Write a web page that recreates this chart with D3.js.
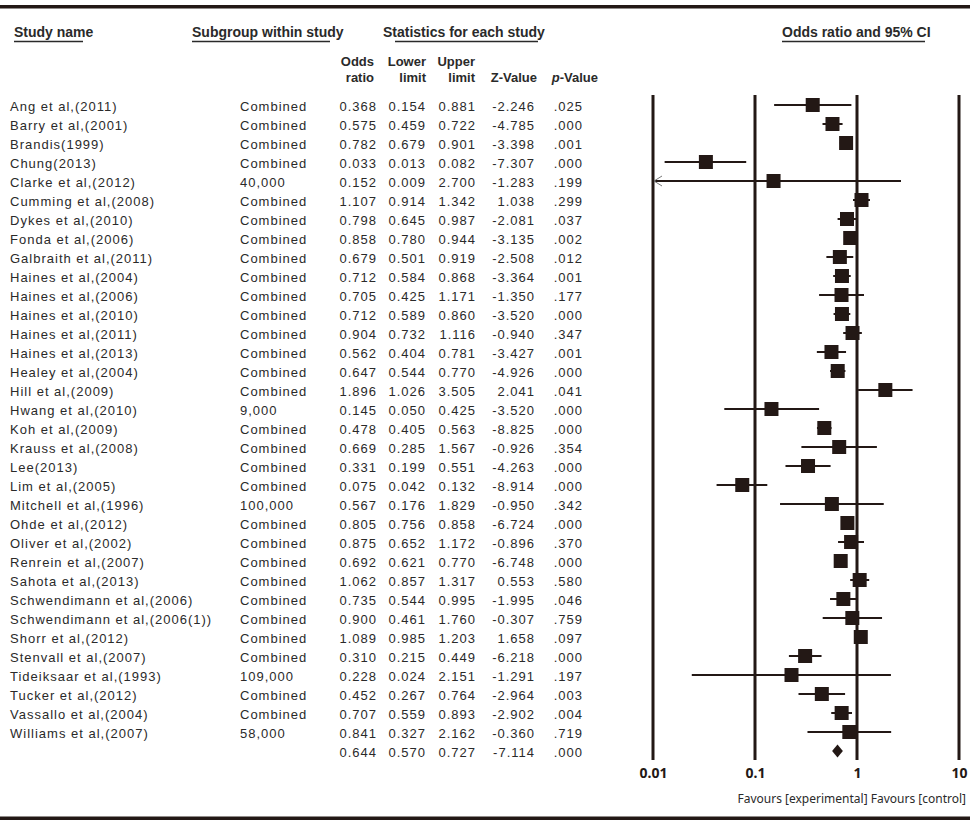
<!DOCTYPE html>
<html>
<head>
<meta charset="utf-8">
<script src="https://cdn.jsdelivr.net/npm/d3@7"></script>
<style>
  html, body { margin: 0; padding: 0; background: #fff; }
  svg { display: block; }
</style>
</head>
<body>
<div id="chart"></div>
<script>
// ---------------- DATA ----------------
const studies = [
  "Ang et al,(2011)", "Barry et al,(2001)", "Brandis(1999)", "Chung(2013)",
  "Clarke et al,(2012)", "Cumming et al,(2008)", "Dykes et al,(2010)", "Fonda et al,(2006)",
  "Galbraith et al,(2011)", "Haines et al,(2004)", "Haines et al,(2006)", "Haines et al,(2010)",
  "Haines et al,(2011)", "Haines et al,(2013)", "Healey et al,(2004)", "Hill et al,(2009)",
  "Hwang et al,(2010)", "Koh et al,(2009)", "Krauss et al,(2008)", "Lee(2013)",
  "Lim et al,(2005)", "Mitchell et al,(1996)", "Ohde et al,(2012)", "Oliver et al,(2002)",
  "Renrein et al,(2007)", "Sahota et al,(2013)", "Schwendimann et al,(2006)", "Schwendimann et al,(2006(1))",
  "Shorr et al,(2012)", "Stenvall et al,(2007)", "Tideiksaar et al,(1993)", "Tucker et al,(2012)",
  "Vassallo et al,(2004)", "Williams et al,(2007)"
];
const subgroups = [
  "Combined", "Combined", "Combined", "Combined",
  "40,000", "Combined", "Combined", "Combined",
  "Combined", "Combined", "Combined", "Combined",
  "Combined", "Combined", "Combined", "Combined",
  "9,000", "Combined", "Combined", "Combined",
  "Combined", "100,000", "Combined", "Combined",
  "Combined", "Combined", "Combined", "Combined",
  "Combined", "Combined", "109,000", "Combined",
  "Combined", "58,000"
];
const oddsRatio = [0.368, 0.575, 0.782, 0.033, 0.152, 1.107, 0.798, 0.858, 0.679, 0.712, 0.705, 0.712,
  0.904, 0.562, 0.647, 1.896, 0.145, 0.478, 0.669, 0.331, 0.075, 0.567, 0.805, 0.875,
  0.692, 1.062, 0.735, 0.900, 1.089, 0.310, 0.228, 0.452, 0.707, 0.841];
const lowerLimit = [0.154, 0.459, 0.679, 0.013, 0.009, 0.914, 0.645, 0.780, 0.501, 0.584, 0.425, 0.589,
  0.732, 0.404, 0.544, 1.026, 0.050, 0.405, 0.285, 0.199, 0.042, 0.176, 0.756, 0.652,
  0.621, 0.857, 0.544, 0.461, 0.985, 0.215, 0.024, 0.267, 0.559, 0.327];
const upperLimit = [0.881, 0.722, 0.901, 0.082, 2.700, 1.342, 0.987, 0.944, 0.919, 0.868, 1.171, 0.860,
  1.116, 0.781, 0.770, 3.505, 0.425, 0.563, 1.567, 0.551, 0.132, 1.829, 0.858, 1.172,
  0.770, 1.317, 0.995, 1.760, 1.203, 0.449, 2.151, 0.764, 0.893, 2.162];
const zValue = [-2.246, -4.785, -3.398, -7.307, -1.283, 1.038, -2.081, -3.135, -2.508, -3.364, -1.350, -3.520,
  -0.940, -3.427, -4.926, 2.041, -3.520, -8.825, -0.926, -4.263, -8.914, -0.950, -6.724, -0.896,
  -6.748, 0.553, -1.995, -0.307, 1.658, -6.218, -1.291, -2.964, -2.902, -0.360];
const pValue = [0.025, 0.000, 0.001, 0.000, 0.199, 0.299, 0.037, 0.002, 0.012, 0.001, 0.177, 0.000,
  0.347, 0.001, 0.000, 0.041, 0.000, 0.000, 0.354, 0.000, 0.000, 0.342, 0.000, 0.370,
  0.000, 0.580, 0.046, 0.759, 0.097, 0.000, 0.197, 0.003, 0.004, 0.719];

const summaryOR = 0.644, summaryLower = 0.570, summaryUpper = 0.727, summaryZ = -7.114, summaryP = 0.000;

const tickValues = [0.01, 0.1, 1, 10];
const tickLabels = ["0.01", "0.1", "1", "10"];

// ---------------- LAYOUT ----------------
const W = 970, H = 825;
const INK = "#231815";
const TXT = "#2a2a2a";
const rowTop = 105, rowStep = 19;
const boxSize = 14;

const svg = d3.select("#chart").append("svg")
  .attr("width", W).attr("height", H)
  .attr("viewBox", `0 0 ${W} ${H}`);

const x = d3.scaleLog().domain([0.01, 10]).range([653, 959]);
const nRows = studies.length + 1;
const y = d3.scaleLinear().domain([0, nRows - 1]).range([rowTop, rowTop + (nRows - 1) * rowStep]);

const fmt3 = v => (v < 0 ? "-" : "") + Math.abs(v).toFixed(3);
const fmtP = v => v.toFixed(3).replace(/^0/, "");

// rules
svg.append("rect").attr("x", 0).attr("y", 5).attr("width", W).attr("height", 3.5).attr("fill", INK);
svg.append("rect").attr("x", 0).attr("y", 816.5).attr("width", W).attr("height", 3.5).attr("fill", INK);

// headers
const headFont = "'Liberation Sans', Arial, sans-serif";
const headers = [
  {t: "Study name", x: 14, ul: [14, 83]},
  {t: "Subgroup within study", x: 192, ul: [192, 330]},
  {t: "Statistics for each study", x: 383, ul: [395, 538]},
  {t: "Odds ratio and 95% CI", x: 782, ul: [782, 925]}
];
const hg = svg.append("g");
hg.selectAll("text").data(headers).join("text")
  .attr("x", d => d.x).attr("y", 37)
  .attr("font-family", headFont).attr("font-weight", "bold").attr("font-size", 14)
  .attr("fill", TXT).text(d => d.t);
hg.selectAll("line").data(headers).join("line")
  .attr("x1", d => d.ul[0]).attr("x2", d => d.ul[1])
  .attr("y1", 41.5).attr("y2", 41.5)
  .attr("stroke", TXT).attr("stroke-width", 1.3);

// column sub-headers
const colRight = {or: 377, lo: 426, up: 476, z: 535, p: 583};
const sub = [
  {l1: "Odds", l2: "ratio", x: 374},
  {l1: "Lower", l2: "limit", x: 426},
  {l1: "Upper", l2: "limit", x: 475},
  {l1: "", l2: "Z-Value", x: 537},
];
const sg = svg.append("g").attr("font-family", headFont).attr("font-weight", "bold")
  .attr("font-size", 13).attr("fill", TXT).attr("text-anchor", "end");
sub.forEach(s => {
  sg.append("text").attr("x", s.x).attr("y", 66).text(s.l1);
  sg.append("text").attr("x", s.x).attr("y", 82).text(s.l2);
});
const pv = sg.append("text").attr("x", 598).attr("y", 82);
pv.append("tspan").attr("font-style", "italic").text("p");
pv.append("tspan").text("-Value");

// table body
const tableFont = "'Liberation Sans', Arial, sans-serif";
const body = svg.append("g").attr("font-family", tableFont).attr("font-size", 13)
  .attr("fill", TXT).attr("letter-spacing", "1px");

const rows = studies.map((s, i) => ({
  name: s, sub: subgroups[i], or: oddsRatio[i], lo: lowerLimit[i], up: upperLimit[i],
  z: zValue[i], p: pValue[i], i: i
}));
const summary = {name: "", sub: "", or: summaryOR, lo: summaryLower, up: summaryUpper, z: summaryZ, p: summaryP, i: studies.length};
const allRows = rows.concat([summary]);

const rg = body.selectAll("g.row").data(allRows).join("g").attr("class", "row")
  .attr("transform", d => `translate(0,${y(d.i) + 5.5})`);
rg.append("text").attr("x", 10).text(d => d.name);
rg.append("text").attr("x", 240).text(d => d.sub);
rg.append("text").attr("x", colRight.or).attr("text-anchor", "end").text(d => d.or.toFixed(3));
rg.append("text").attr("x", colRight.lo).attr("text-anchor", "end").text(d => d.lo.toFixed(3));
rg.append("text").attr("x", colRight.up).attr("text-anchor", "end").text(d => d.up.toFixed(3));
rg.append("text").attr("x", colRight.z).attr("text-anchor", "end").text(d => fmt3(d.z));
rg.append("text").attr("x", colRight.p).attr("text-anchor", "end").text(d => fmtP(d.p));

// forest plot
const plot = svg.append("g");
plot.selectAll("line.grid").data(tickValues).join("line").attr("class", "grid")
  .attr("x1", d => x(d)).attr("x2", d => x(d))
  .attr("y1", 95).attr("y2", 760)
  .attr("stroke", INK).attr("stroke-width", 3);

const [dMin, dMax] = x.domain();
plot.selectAll("line.ci").data(rows).join("line").attr("class", "ci")
  .attr("x1", d => x(Math.max(d.lo, dMin))).attr("x2", d => x(Math.min(d.up, dMax)))
  .attr("y1", d => y(d.i)).attr("y2", d => y(d.i))
  .attr("stroke", INK).attr("stroke-width", 2);

// arrows for truncated CIs
plot.selectAll("path.arrow").data(rows.filter(d => d.lo < dMin)).join("path").attr("class", "arrow")
  .attr("d", d => {
    const xx = x(dMin) + 1, yy = y(d.i);
    return `M${xx + 8},${yy - 5} L${xx},${yy} L${xx + 8},${yy + 5}`;
  })
  .attr("fill", "none").attr("stroke", "#777").attr("stroke-width", 1);

plot.selectAll("rect.box").data(rows).join("rect").attr("class", "box")
  .attr("x", d => x(d.or) - boxSize / 2).attr("y", d => y(d.i) - boxSize / 2)
  .attr("width", boxSize).attr("height", boxSize).attr("fill", INK);

// summary diamond
plot.append("path")
  .attr("d", `M${x(summary.lo)},${y(summary.i)} L${x(summary.or)},${y(summary.i) - 6.5} L${x(summary.up)},${y(summary.i)} L${x(summary.or)},${y(summary.i) + 6.5} Z`)
  .attr("fill", INK);

// axis labels
const axisG = svg.append("g").attr("transform", "translate(0,768)")
  .call(d3.axisBottom(x).tickValues(tickValues).tickFormat((d, i) => tickLabels[i]).tickSize(0).tickPadding(0));
axisG.select(".domain").remove();
axisG.selectAll("text")
  .attr("font-family", "'Noto Sans', sans-serif").attr("font-weight", "bold")
  .attr("font-size", 14).attr("fill", INK);

svg.append("text").attr("x", 966).attr("y", 803).attr("text-anchor", "end")
  .attr("font-family", "'Noto Sans', sans-serif").attr("font-size", 12)
  .attr("fill", TXT).text("Favours [experimental] Favours [control]");
</script>
</body>
</html>
